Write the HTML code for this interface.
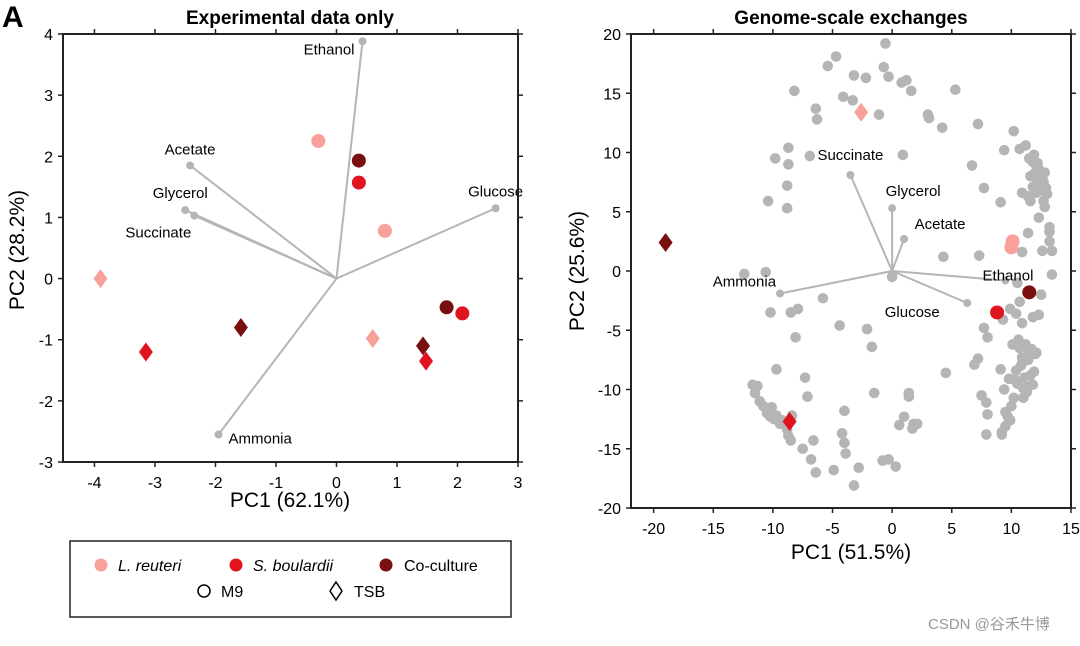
<!DOCTYPE html>
<html><head><meta charset="utf-8">
<style>
body{margin:0;background:#fff;width:1080px;height:641px;overflow:hidden;font-family:"Liberation Sans",Arial,sans-serif;}
svg text{font-family:"Liberation Sans",Arial,sans-serif;}
</style></head>
<body>
<svg id="fig" width="1080" height="641" xmlns="http://www.w3.org/2000/svg">
<text x="2" y="27" font-size="30" font-weight="bold">A</text>
<text x="290" y="24" font-size="19" font-weight="bold" text-anchor="middle">Experimental data only</text>
<text x="851" y="24" font-size="19" font-weight="bold" text-anchor="middle">Genome-scale exchanges</text>
<text x="290" y="507" font-size="21" text-anchor="middle">PC1 (62.1%)</text>
<text transform="translate(24,250) rotate(-90)" font-size="21" text-anchor="middle">PC2 (28.2%)</text>
<text x="851" y="559" font-size="21" text-anchor="middle">PC1 (51.5%)</text>
<text transform="translate(584,271) rotate(-90)" font-size="21" text-anchor="middle">PC2 (25.6%)</text>
<g>
<rect x="70" y="541" width="441" height="76" fill="#fff" stroke="#222" stroke-width="1.5"/>
<circle cx="101" cy="565" r="6.5" fill="#f8a09a"/>
<text x="118" y="571" font-size="16" font-style="italic">L. reuteri</text>
<circle cx="236" cy="565" r="6.5" fill="#e0141e"/>
<text x="253" y="571" font-size="16" font-style="italic">S. boulardii</text>
<circle cx="386" cy="565" r="6.5" fill="#7a0f10"/>
<text x="404" y="571" font-size="16">Co-culture</text>
<circle cx="204" cy="591" r="6" fill="none" stroke="#000" stroke-width="1.5"/>
<text x="221" y="597" font-size="16">M9</text>
<path d="M336 582 L342 591 L336 600 L330 591 Z" fill="none" stroke="#000" stroke-width="1.5"/>
<text x="354" y="597" font-size="16">TSB</text>
</g>
<text x="928" y="629" font-size="15" fill="#999" font-family="'Liberation Sans','Noto Sans CJK SC',sans-serif">CSDN @谷禾牛博</text>
</svg>
<script>
// ===== Left chart data =====
const leftXTicks = [-4,-3,-2,-1,0,1,2,3];
const leftYTicks = [-3,-2,-1,0,1,2,3,4];
const leftLoadNames = ["Ethanol","Acetate","Glycerol","Succinate","Glucose","Ammonia"];
const leftLoadX = [0.43,-2.42,-2.5,-2.35,2.63,-1.95];
const leftLoadY = [3.88,1.85,1.12,1.03,1.15,-2.55];
const leftSampleGroup = ["L. reuteri","L. reuteri","L. reuteri","L. reuteri","S. boulardii","S. boulardii","S. boulardii","S. boulardii","Co-culture","Co-culture","Co-culture","Co-culture"];
const leftSampleMedium = ["M9","M9","TSB","TSB","M9","M9","TSB","TSB","M9","M9","TSB","TSB"];
const leftSampleX = [-0.3,0.8,-3.9,0.6,0.37,2.08,-3.15,1.48,0.37,1.82,-1.58,1.43];
const leftSampleY = [2.25,0.78,0,-0.98,1.57,-0.57,-1.2,-1.35,1.93,-0.47,-0.8,-1.1];
// ===== Right chart data =====
const rightXTicks = [-20,-15,-10,-5,0,5,10,15];
const rightYTicks = [-20,-15,-10,-5,0,5,10,15,20];
const rightLoadNames = ["Succinate","Glycerol","Acetate","Ethanol","Glucose","Ammonia"];
const rightLoadX = [-3.5,0,1,9.5,6.3,-9.4];
const rightLoadY = [8.1,5.3,2.7,-0.8,-2.7,-1.9];
const rightSampleGroup = ["Co-culture","L. reuteri","L. reuteri","L. reuteri","S. boulardii","Co-culture","S. boulardii"];
const rightSampleMedium = ["TSB","TSB","M9","M9","M9","M9","TSB"];
const rightSampleX = [-19,-2.6,10.1,10.0,8.8,11.5,-8.6];
const rightSampleY = [2.4,13.4,2.5,2.0,-3.5,-1.8,-12.7];
const grayX = [-0.56,-4.7,-5.4,-0.7,-3.2,-2.2,-0.3,0.8,1.2,1.6,5.3,-8.2,-4.1,-3.3,-6.4,-6.3,-1.1,3.0,3.1,4.2,7.2,10.2,-8.7,-9.8,-8.7,-6.9,0.9,6.7,9.4,10.7,11.2,7.7,9.1,-8.8,-10.4,-8.8,
11.5,11.8,12.1,12.3,12.0,12.5,12.2,12.7,12.4,12.9,12.6,11.8,12.1,13.0,11.6,12.8,11.9,12.6,12.2,
10.9,11.4,11.6,12.7,12.8,12.3,13.2,13.2,13.2,11.4,13.4,12.6,10.9,7.3,4.3,
-12.4,-10.6,0,10.5,13.4,12.5,10.7,10.4,9.9,9.3,10.9,11.8,12.3,7.7,8.0,-5.8,-10.2,-8.5,-7.9,-4.4,-2.1,-8.1,-1.7,-9.7,-7.3,-7.1,-1.5,1.4,1.4,-4.0,1.0,0.6,1.8,2.1,1.7,-4.2,-4.0,-3.9,-2.8,-4.9,-3.2,-0.8,-0.3,0.3,-7.5,-6.6,-6.8,-6.4,4.5,6.9,7.2,
-11.7,-11.3,-11.5,-11.1,-10.8,-10.1,-10.5,-10.2,-9.7,-9.2,-9.9,-9.4,-8.4,-8.8,-8.5,-8.7,
7.5,7.9,8.0,7.9,9.1,9.4,9.2,9.5,9.7,10.0,10.2,9.8,10.1,10.9,10.4,11.3,11.0,9.9,9.5,9.2,
10.6,11.2,11.7,12.0,11.4,10.8,11.9,11.1,10.5,11.5,10.9,11.6,10.3,11.0,11.3,10.7,12.1,11.8];
const grayY = [19.2,18.1,17.3,17.2,16.5,16.3,16.4,15.9,16.1,15.2,15.3,15.2,14.7,14.4,13.7,12.8,13.2,13.2,12.9,12.1,12.4,11.8,10.4,9.5,9.0,9.7,9.8,8.9,10.2,10.3,10.6,7.0,5.8,7.2,5.9,5.3,
9.5,9.2,8.9,8.6,8.3,8.0,7.7,7.5,7.2,7.0,6.8,7.1,6.6,6.5,8.0,8.3,9.8,7.9,9.1,
6.6,6.3,5.9,5.9,5.4,4.5,3.7,3.3,2.5,3.2,1.7,1.7,1.6,1.3,1.2,
-0.25,-0.1,-0.5,-1.0,-0.3,-2.0,-2.6,-3.6,-3.2,-4.1,-4.4,-3.9,-3.7,-4.8,-5.6,-2.3,-3.5,-3.5,-3.2,-4.6,-4.9,-5.6,-6.4,-8.3,-9.0,-10.6,-10.3,-10.3,-10.6,-11.8,-12.3,-13.0,-12.9,-12.9,-13.3,-13.7,-14.5,-15.4,-16.6,-16.8,-18.1,-16.0,-15.9,-16.5,-15.0,-14.3,-15.9,-17.0,-8.6,-7.9,-7.4,
-9.6,-9.7,-10.3,-11.0,-11.4,-11.5,-12.0,-12.3,-12.2,-12.6,-12.5,-12.9,-12.2,-13.4,-14.3,-13.9,
-10.5,-11.1,-12.1,-13.8,-8.3,-10.0,-13.6,-13.1,-12.3,-11.4,-10.7,-9.1,-6.2,-7.3,-8.4,-9.8,-10.7,-12.6,-11.9,-13.8,
-5.8,-6.2,-6.6,-7.0,-7.5,-8.0,-8.5,-9.0,-9.5,-6.8,-7.8,-8.8,-9.2,-9.9,-10.2,-6.5,-6.9,-9.6];

const NS="http://www.w3.org/2000/svg";
const svg=document.getElementById('fig');
const colors={"L. reuteri":"#f8a09a","S. boulardii":"#e0141e","Co-culture":"#7a0f10"};
function el(tag,attrs,parent){const e=document.createElementNS(NS,tag);for(const k in attrs)e.setAttribute(k,attrs[k]);(parent||svg).appendChild(e);return e;}

function drawChart(cfg){
  const g=el('g',{});
  
  
  const sx=v=>cfg.L+(v-cfg.x0)/(cfg.x1-cfg.x0)*(cfg.R-cfg.L);
  const sy=v=>cfg.B-(v-cfg.y0)/(cfg.y1-cfg.y0)*(cfg.B-cfg.T);
  cfg.xt.forEach(t=>{
    const x=sx(t);
    const a=el('line',{x1:x,x2:x,y1:cfg.B,y2:cfg.B+5,stroke:'#222','stroke-width':1.5},g);
    
    
    const b=el('line',{x1:x,x2:x,y1:cfg.T,y2:cfg.T-5,stroke:'#222','stroke-width':1.5},g);
    
    
    const tx=el('text',{x:x,y:cfg.B+26,'font-size':16,'text-anchor':'middle'},g);
    tx.textContent=t;
    
    
  });
  cfg.yt.forEach(t=>{
    const y=sy(t);
    const a=el('line',{x1:cfg.L,x2:cfg.L-5,y1:y,y2:y,stroke:'#222','stroke-width':1.5},g);
    
    
    const b=el('line',{x1:cfg.R,x2:cfg.R+5,y1:y,y2:y,stroke:'#222','stroke-width':1.5},g);
    
    
    const tx=el('text',{x:cfg.L-10,y:y+6,'font-size':16,'text-anchor':'end'},g);
    tx.textContent=t;
    
    
  });
  if(cfg.gx){cfg.gx.forEach((v,i)=>{
    const c=el('circle',{cx:sx(v),cy:sy(cfg.gy[i]),r:5.3,fill:'#b5b5b5'},g);
    
    
  });}
  cfg.ln.forEach((n,i)=>{
    const x=sx(cfg.lx[i]),y=sy(cfg.ly[i]);
    const l=el('line',{x1:sx(0),y1:sy(0),x2:x,y2:y,stroke:'#b5b5b5','stroke-width':2},g);
    
    
    const d=el('circle',{cx:x,cy:y,r:4,fill:'#b5b5b5'},g);
    
    
    const o=cfg.lo[i];
    const t=el('text',{x:x+o[0],y:y+o[1],'font-size':15,'text-anchor':o[2]},g);
    t.textContent=n;
    
    
  });
  cfg.sx.forEach((v,i)=>{
    const x=sx(v),y=sy(cfg.sy[i]),col=colors[cfg.sg[i]];
    let m;
    if(cfg.sm[i]==='M9'){m=el('circle',{cx:x,cy:y,r:7,fill:col},g);}
    else{m=el('path',{d:`M${x} ${y-9.5} L${x+7} ${y} L${x} ${y+9.5} L${x-7} ${y} Z`,fill:col},g);}
    
    
  });
  const fr=el('rect',{x:cfg.L,y:cfg.T,width:cfg.R-cfg.L,height:cfg.B-cfg.T,fill:'none',stroke:'#222','stroke-width':2},g);
  
  
}

drawChart({name:'left-biplot',L:63,R:518,T:34,B:462,x0:-4.52,x1:3,y0:-3,y1:4,xt:leftXTicks,yt:leftYTicks,
  ln:leftLoadNames,lx:leftLoadX,ly:leftLoadY,
  lo:[[-8,13,'end'],[0,-11,'middle'],[-5,-12,'middle'],[-3,22,'end'],[0,-12,'middle'],[10,9,'start']],
  sx:leftSampleX,sy:leftSampleY,sg:leftSampleGroup,sm:leftSampleMedium});
drawChart({name:'right-biplot',L:631,R:1071,T:34,B:508,x0:-21.9,x1:15,y0:-20,y1:20,xt:rightXTicks,yt:rightYTicks,
  gx:grayX,gy:grayY,
  ln:rightLoadNames,lx:rightLoadX,ly:rightLoadY,
  lo:[[0,-15,'middle'],[21,-12,'middle'],[36,-10,'middle'],[28,0,'end'],[-55,14,'middle'],[-4,-7,'end']],
  sx:rightSampleX,sy:rightSampleY,sg:rightSampleGroup,sm:rightSampleMedium});
</script>
</body></html>
